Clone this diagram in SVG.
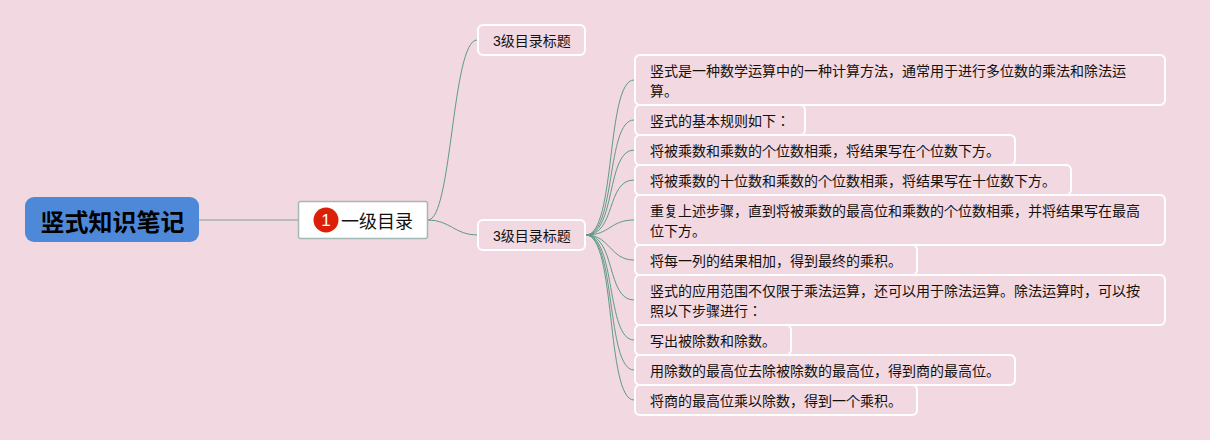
<svg xmlns="http://www.w3.org/2000/svg" width="1210" height="440" viewBox="0 0 1210 440">
<style>
text{font-family:"Liberation Sans","Noto Sans CJK JP",sans-serif;fill:#111}
.n rect{fill:#f2d8e1;stroke:#fff;stroke-width:2}
.n text{font-size:14px}
#connectors path{fill:none;stroke:#5f9a87;stroke-width:1}
</style>
<rect width="1210" height="440" fill="#f2d8e1"/>
<g id="connectors">
<path d="M199 220H298" style="stroke:#a3b5b1;stroke-width:1.5"/>
<path d="M428 220C452 220 452 40 477 40"/>
<path d="M428 220C450 220 455 235 477 235"/>
<path d="M586 235C616 235 606 80 634 80"/>
<path d="M586 235C616 235 606 120 634 120"/>
<path d="M586 235C616 235 606 150 634 150"/>
<path d="M586 235C616 235 606 180 634 180"/>
<path d="M586 235C610 235 610 220 634 220"/>
<path d="M586 235C610 235 610 260 634 260"/>
<path d="M586 235C616 235 606 300 634 300"/>
<path d="M586 235C616 235 606 340 634 340"/>
<path d="M586 235C616 235 606 370 634 370"/>
<path d="M586 235C616 235 606 400 634 400"/>
</g>
<g id="root"><rect x="25" y="197" width="174" height="45" rx="9" fill="#4e88d8"/><text x="112.500" y="231" font-size="24" font-weight="700" text-anchor="middle" style="fill:#000">竖式知识笔记</text></g>
<g id="l1"><rect x="298.500" y="201.500" width="129" height="37" rx="2" fill="#fff" stroke="#a3b9b5" stroke-width="1.500"/><circle cx="326" cy="220" r="12.500" fill="#dc2008"/><text x="326" y="226" font-size="17" text-anchor="middle" style="fill:#fff">1</text><text x="341" y="228" font-size="18">一级目录</text></g>
<g id="a" class="n"><rect x="478" y="25" width="107" height="30" rx="5"/><text x="493" y="46">3级目录标题</text></g>
<g id="b" class="n"><rect x="478" y="220" width="107" height="30" rx="5"/><text x="493" y="241">3级目录标题</text></g>
<g id="c1" class="n"><rect x="635" y="55" width="530" height="50" rx="5"/><text x="650" y="76">竖式是一种数学运算中的一种计算方法，通常用于进行多位数的乘法和除法运</text><text x="650" y="96">算。</text></g>
<g id="c2" class="n"><rect x="635" y="105" width="170" height="30" rx="5"/><text x="650" y="126">竖式的基本规则如下：</text></g>
<g id="c3" class="n"><rect x="635" y="135" width="380" height="30" rx="5"/><text x="650" y="156">将被乘数和乘数的个位数相乘，将结果写在个位数下方。</text></g>
<g id="c4" class="n"><rect x="635" y="165" width="436" height="30" rx="5"/><text x="650" y="186">将被乘数的十位数和乘数的个位数相乘，将结果写在十位数下方。</text></g>
<g id="c5" class="n"><rect x="635" y="195" width="530" height="50" rx="5"/><text x="650" y="216">重复上述步骤，直到将被乘数的最高位和乘数的个位数相乘，并将结果写在最高</text><text x="650" y="236">位下方。</text></g>
<g id="c6" class="n"><rect x="635" y="245" width="282" height="30" rx="5"/><text x="650" y="266">将每一列的结果相加，得到最终的乘积。</text></g>
<g id="c7" class="n"><rect x="635" y="275" width="530" height="50" rx="5"/><text x="650" y="296">竖式的应用范围不仅限于乘法运算，还可以用于除法运算。除法运算时，可以按</text><text x="650" y="316">照以下步骤进行：</text></g>
<g id="c8" class="n"><rect x="635" y="325" width="156" height="30" rx="5"/><text x="650" y="346">写出被除数和除数。</text></g>
<g id="c9" class="n"><rect x="635" y="355" width="380" height="30" rx="5"/><text x="650" y="376">用除数的最高位去除被除数的最高位，得到商的最高位。</text></g>
<g id="c10" class="n"><rect x="635" y="385" width="282" height="30" rx="5"/><text x="650" y="406">将商的最高位乘以除数，得到一个乘积。</text></g>
</svg>
